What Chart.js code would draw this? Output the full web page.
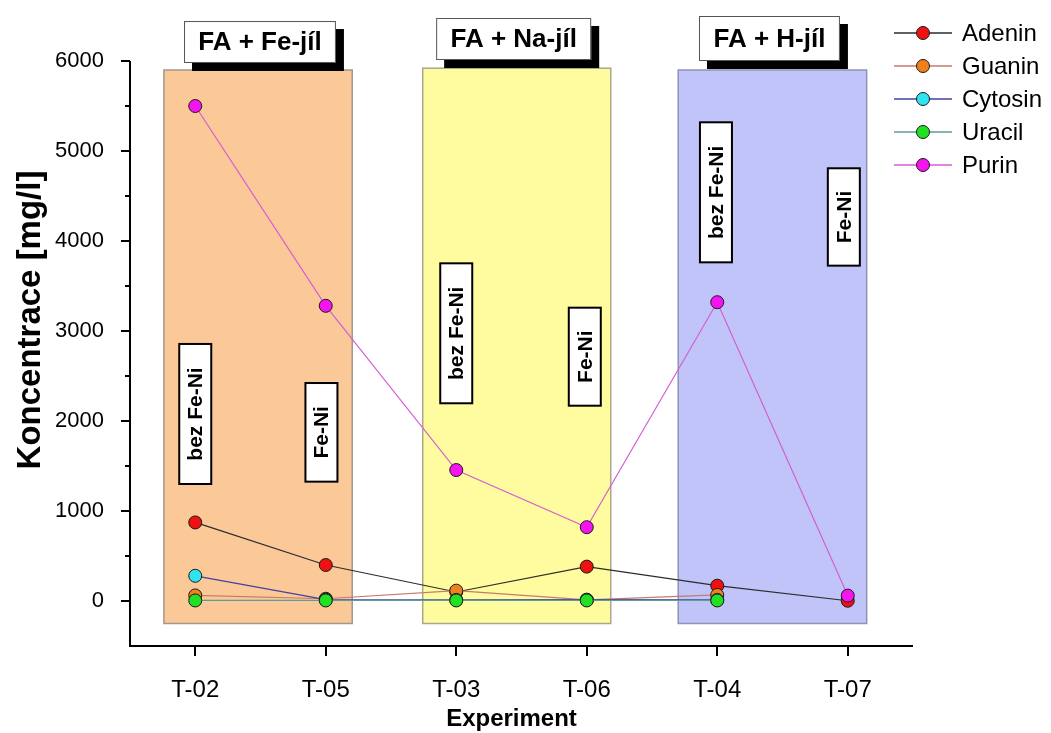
<!DOCTYPE html>
<html>
<head>
<meta charset="utf-8">
<script src="https://cdn.jsdelivr.net/npm/chart.js@4.4.1/dist/chart.umd.min.js"></script>
<style>
  html, body { margin: 0; padding: 0; background: #ffffff; }
  #wrap { width: 1051px; height: 733px; position: relative; }
</style>
</head>
<body>
<div id="wrap"><canvas id="chart" width="1051" height="733"></canvas></div>
<script>
// ---- data ----
const experiments = ['T-02', 'T-05', 'T-03', 'T-06', 'T-04', 'T-07'];
const seriesNames = ['Adenin', 'Guanin', 'Cytosin', 'Uracil', 'Purin'];
const adenin  = [873, 400, 100, 382, 170, 3];
const guanin  = [62, 25, 115, 12, 67, null];
const cytosin = [280, 15, 12, 15, 12, null];
const uracil  = [6, 6, 6, 6, 6, null];
const purin   = [5500, 3280, 1455, 820, 3320, 60];
const yTickValues = [0, 1000, 2000, 3000, 4000, 5000, 6000];
const groupLabels = ['FA + Fe-jíl', 'FA + Na-jíl', 'FA + H-jíl'];
const conditionLabels = ['bez Fe-Ni', 'Fe-Ni', 'bez Fe-Ni', 'Fe-Ni', 'bez Fe-Ni', 'Fe-Ni'];

// ---- layout / styling ----
const FONT = '"Liberation Sans", Arial, Helvetica, sans-serif';
const seriesStyle = [
  { line: '#2b2b2b', fill: '#ee1111' },
  { line: '#c77a6e', fill: '#f0801c' },
  { line: '#43409e', fill: '#2fe4ee' },
  { line: '#5d9c98', fill: '#22e022' },
  { line: '#d45fd4', fill: '#f414f0' }
];
// shaded groups, in axis units
const panels = [
  { x0: -0.24, x1: 1.203, y0: -250, y1: 5900, fill: '#fbc898', stroke: '#a3968a' },
  { x0: 1.743, x1: 3.184, y0: -250, y1: 5920, fill: '#fefc9e', stroke: '#a9a88f' },
  { x0: 3.701, x1: 5.145, y0: -250, y1: 5900, fill: '#c0c4f9', stroke: '#8f93b5' }
];
// group header boxes (centre x, half width in axis units; top/bottom in value units)
const headers = [
  { cx: 0.496, hw: 0.582, top: 6444, bottom: 5978 },
  { cx: 2.44,  hw: 0.594, top: 6478, bottom: 6011 },
  { cx: 4.40,  hw: 0.540, top: 6500, bottom: 6000 }
];
// vertical condition boxes
const condBoxes = [
  { cx: 0.0,   top: 2856, bottom: 1300 },
  { cx: 0.967, top: 2422, bottom: 1326 },
  { cx: 2.0,   top: 3752, bottom: 2197 },
  { cx: 2.985, top: 3259, bottom: 2170 },
  { cx: 3.99,  top: 5319, bottom: 3763 },
  { cx: 4.97,  top: 4808, bottom: 3726 }
];

const seriesValues = [adenin, guanin, cytosin, uracil, purin];
const datasets = seriesNames.map((name, s) => ({
  label: name,
  data: seriesValues[s].map((v, i) => (v === null ? null : { x: i, y: v })).filter(p => p !== null),
  borderColor: seriesStyle[s].line,
  borderWidth: 1.2,
  backgroundColor: seriesStyle[s].fill,
  pointBackgroundColor: seriesStyle[s].fill,
  pointBorderColor: '#1a1a1a',
  pointBorderWidth: 1,
  pointRadius: 6.5,
  pointHoverRadius: 6.5,
  tension: 0,
  fill: false,
  clip: false,
  order: seriesNames.length - s
}));

const decorations = {
  id: 'decorations',
  beforeDatasetsDraw(chart) {
    const { ctx, scales: { x, y } } = chart;
    ctx.save();
    // group backgrounds
    panels.forEach(p => {
      const l = x.getPixelForValue(p.x0), r = x.getPixelForValue(p.x1);
      const t = y.getPixelForValue(p.y1), b = y.getPixelForValue(p.y0);
      ctx.fillStyle = p.fill;
      ctx.fillRect(l, t, r - l, b - t);
      ctx.strokeStyle = p.stroke;
      ctx.lineWidth = 1.5;
      ctx.strokeRect(l, t, r - l, b - t);
    });
    // vertical condition labels
    condBoxes.forEach((c, i) => {
      const cx = x.getPixelForValue(c.cx);
      const t = y.getPixelForValue(c.top), b = y.getPixelForValue(c.bottom);
      const w = 32;
      ctx.fillStyle = '#ffffff';
      ctx.fillRect(cx - w / 2, t, w, b - t);
      ctx.strokeStyle = '#000000';
      ctx.lineWidth = 2;
      ctx.strokeRect(cx - w / 2, t, w, b - t);
      ctx.save();
      ctx.translate(cx, (t + b) / 2);
      ctx.rotate(-Math.PI / 2);
      ctx.fillStyle = '#000000';
      ctx.font = 'bold 21px ' + FONT;
      ctx.textAlign = 'center';
      ctx.textBaseline = 'middle';
      ctx.fillText(conditionLabels[i], 0, 1);
      ctx.restore();
    });
    ctx.restore();
  },
  afterDraw(chart) {
    const { ctx, chartArea, scales: { x, y } } = chart;
    ctx.save();
    // axis lines
    ctx.strokeStyle = '#000000';
    ctx.lineWidth = 2;
    ctx.beginPath();
    ctx.moveTo(chartArea.left, y.getPixelForValue(6000));
    ctx.lineTo(chartArea.left, chartArea.bottom);
    ctx.lineTo(chartArea.right, chartArea.bottom);
    ctx.stroke();
    // y ticks (major + minor)
    for (let v = 0; v <= 6000; v += 500) {
      const py = Math.round(y.getPixelForValue(v));
      const len = v % 1000 === 0 ? 9 : 5;
      ctx.beginPath();
      ctx.moveTo(chartArea.left - len, py);
      ctx.lineTo(chartArea.left, py);
      ctx.stroke();
    }
    // x ticks
    experiments.forEach((_, i) => {
      const pxX = Math.round(x.getPixelForValue(i));
      ctx.beginPath();
      ctx.moveTo(pxX, chartArea.bottom);
      ctx.lineTo(pxX, chartArea.bottom + 10);
      ctx.stroke();
    });
    // axis titles
    ctx.fillStyle = '#000000';
    ctx.font = 'bold 24px ' + FONT;
    ctx.textAlign = 'center';
    ctx.textBaseline = 'middle';
    ctx.fillText('Experiment', (chartArea.left + chartArea.right) / 2 - 10, 719);
    ctx.save();
    ctx.translate(31, 320);
    ctx.rotate(-Math.PI / 2);
    ctx.font = 'bold 33px ' + FONT;
    ctx.fillText('Koncentrace [mg/l]', 0, 0);
    ctx.restore();

    // group header boxes with drop shadow
    headers.forEach((h, i) => {
      const l = x.getPixelForValue(h.cx - h.hw), r = x.getPixelForValue(h.cx + h.hw);
      const t = y.getPixelForValue(h.top), b = y.getPixelForValue(h.bottom);
      ctx.fillStyle = '#000000';
      ctx.fillRect(l + 8, t + 8, r - l, b - t);
      ctx.fillStyle = '#ffffff';
      ctx.fillRect(l, t, r - l, b - t);
      ctx.strokeStyle = '#555555';
      ctx.lineWidth = 1;
      ctx.strokeRect(l + 0.5, t + 0.5, r - l - 1, b - t - 1);
      ctx.fillStyle = '#000000';
      ctx.font = 'bold 26px ' + FONT;
      ctx.textAlign = 'center';
      ctx.textBaseline = 'middle';
      ctx.fillText(groupLabels[i], (l + r) / 2, (t + b) / 2 + 1);
    });

    // legend
    ctx.font = '24px ' + FONT;
    ctx.textAlign = 'left';
    ctx.textBaseline = 'middle';
    chart.data.datasets.forEach((ds, i) => {
      const ly = 33 + i * 33;
      ctx.strokeStyle = ds.borderColor;
      ctx.lineWidth = 1.5;
      ctx.beginPath();
      ctx.moveTo(894, ly);
      ctx.lineTo(952, ly);
      ctx.stroke();
      ctx.beginPath();
      ctx.arc(923, ly, 6.5, 0, Math.PI * 2);
      ctx.fillStyle = ds.pointBackgroundColor;
      ctx.fill();
      ctx.strokeStyle = '#1a1a1a';
      ctx.lineWidth = 1;
      ctx.stroke();
      ctx.fillStyle = '#000000';
      ctx.fillText(ds.label, 962, ly + 1);
    });
    ctx.restore();
  }
};

new Chart(document.getElementById('chart'), {
  type: 'line',
  data: { datasets },
  options: {
    responsive: false,
    animation: false,
    layout: { padding: { left: 0, right: 138, top: 61, bottom: 0 } },
    plugins: { legend: { display: false }, tooltip: { enabled: false } },
    scales: {
      x: {
        type: 'linear',
        min: -0.5,
        max: 5.5,
        afterBuildTicks: s => { s.ticks = experiments.map((_, i) => ({ value: i })); },
        ticks: {
          callback: v => experiments[v],
          color: '#000000',
          font: { family: FONT, size: 24 },
          padding: 22,
          maxRotation: 0,
          autoSkip: false
        },
        grid: { display: false },
        border: { display: false },
        afterFit: s => { s.height = 87; }
      },
      y: {
        min: -500,
        max: 6000,
        afterBuildTicks: s => { s.ticks = yTickValues.map(v => ({ value: v })); },
        ticks: {
          callback: v => String(v),
          color: '#000000',
          font: { family: FONT, size: 22 },
          padding: 18
        },
        grid: { display: false },
        border: { display: false },
        afterFit: s => { s.width = 130; }
      }
    }
  },
  plugins: [decorations]
});
</script>
</body>
</html>
